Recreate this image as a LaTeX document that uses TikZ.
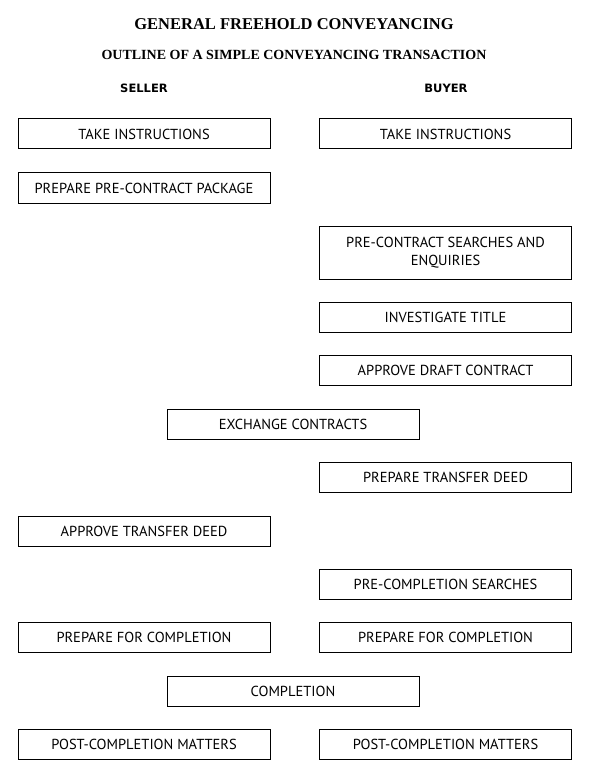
\documentclass[tikz,border=0pt]{standalone}
\usepackage{fontspec}
\setmainfont{PT Sans}
\newfontfamily\titlefont{Liberation Serif}
\newfontfamily\headfont{DejaVu Sans}
\begin{document}
\begin{tikzpicture}[x=1pt,y=-1pt,inner sep=1pt,
  box/.style={draw,line width=1pt,minimum width=252pt,minimum height=30pt,align=center,
    font=\fontsize{14.5}{18}\selectfont}]
\useasboundingbox (0,0) rectangle (592,770);
% headings
\node (title) at (294,24) {\titlefont\bfseries\fontsize{16.5}{20}\selectfont GENERAL FREEHOLD CONVEYANCING};
\node (sub) at (294,55) {\titlefont\bfseries\fontsize{14}{18}\selectfont OUTLINE OF A SIMPLE CONVEYANCING TRANSACTION};
\node (seller) at (144,88) {\headfont\bfseries\fontsize{11.5}{14}\selectfont SELLER};
\node (buyer) at (446,88) {\headfont\bfseries\fontsize{11.5}{14}\selectfont BUYER};
% seller column
\node[box] (s1) at (144,134) {TAKE INSTRUCTIONS};
\node[box] (s2) at (144,188) {PREPARE PRE-CONTRACT PACKAGE};
\node[box] (s3) at (144,531) {APPROVE TRANSFER DEED};
\node[box] (s4) at (144,637.5) {PREPARE FOR COMPLETION};
\node[box] (s5) at (144,744.5) {POST-COMPLETION MATTERS};
% buyer column
\node[box] (b1) at (445.5,134) {TAKE INSTRUCTIONS};
\node[box,minimum height=53pt] (b2) at (445.5,252.5) {PRE-CONTRACT SEARCHES AND\\ENQUIRIES};
\node[box] (b3) at (445.5,317) {INVESTIGATE TITLE};
\node[box] (b4) at (445.5,370.5) {APPROVE DRAFT CONTRACT};
\node[box] (b5) at (445.5,477.5) {PREPARE TRANSFER DEED};
\node[box] (b6) at (445.5,584.5) {PRE-COMPLETION SEARCHES};
\node[box] (b7) at (445.5,637.5) {PREPARE FOR COMPLETION};
\node[box] (b8) at (445.5,744.5) {POST-COMPLETION MATTERS};
% joint steps
\node[box] (j1) at (293,424) {EXCHANGE CONTRACTS};
\node[box] (j2) at (293,691) {COMPLETION};
\end{tikzpicture}
\end{document}
